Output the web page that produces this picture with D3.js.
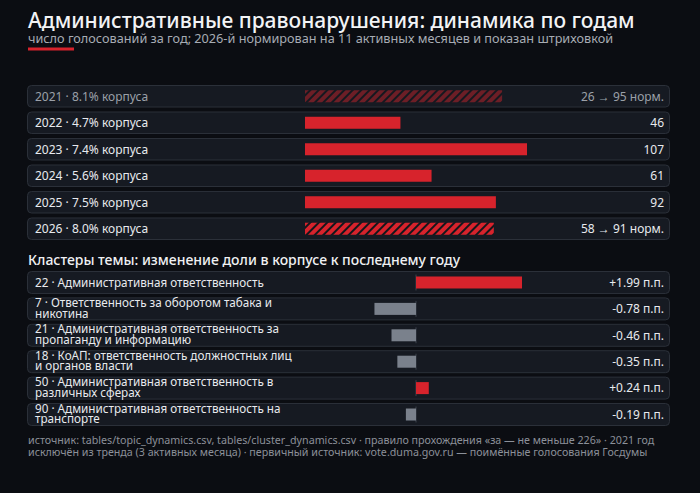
<!DOCTYPE html>
<html><head><meta charset="utf-8">
<script src="https://cdn.jsdelivr.net/npm/d3@7"></script>
<style>
html,body{margin:0;padding:0;background:#0b0d12;}
svg{display:block;}
text{font-family:"Noto Sans","Open Sans",sans-serif;}
</style></head>
<body>
<svg id="c" width="700" height="493"></svg>
<script>
const years = ["2021","2022","2023","2024","2025","2026"];
const yearShare = ["8.1%","4.7%","7.4%","5.6%","7.5%","8.0%"];
const yearRaw = [26,46,107,61,92,58];
const yearNorm = [95,46,107,61,92,91];
const yearPartial = [true,false,false,false,false,true];
const yearExcluded = [true,false,false,false,false,false];

const clusterIds = ["22","7","21","18","50","90"];
const clusterNames = [
  ["Административная ответственность"],
  ["Ответственность за оборотом табака и","никотина"],
  ["Административная ответственность за","пропаганду и информацию"],
  ["КоАП: ответственность должностных лиц","и органов власти"],
  ["Административная ответственность в","различных сферах"],
  ["Административная ответственность на","транспорте"]
];
const clusterDelta = [1.99,-0.78,-0.46,-0.35,0.24,-0.19];

const titleText = "Административные правонарушения: динамика по годам";
const subtitleText = "число голосований за год; 2026-й нормирован на 11 активных месяцев и показан штриховкой";
const sectionText = "Кластеры темы: изменение доли в корпусе к последнему году";
const footerLines = [
  "источник: tables/topic_dynamics.csv, tables/cluster_dynamics.csv · правило прохождения «за — не меньше 226» · 2021 год",
  "исключён из тренда (3 активных месяца) · первичный источник: vote.duma.gov.ru — поимённые голосования Госдумы"
];

const RED = "#d7232c", GRAY = "#7a818c";
const svg = d3.select("#c");
const defs = svg.append("defs");
const pat = defs.append("pattern").attr("id","hatch").attr("patternUnits","userSpaceOnUse")
  .attr("width",6).attr("height",6).attr("patternTransform","rotate(45)");
pat.append("rect").attr("width",6).attr("height",6).attr("fill",RED);
pat.append("rect").attr("width",2).attr("height",6).attr("fill","#15161b");

svg.append("text").attr("x",28).attr("y",28).attr("fill","#f2f3f5")
  .attr("font-size",21).attr("font-weight",500).text(titleText);
svg.append("text").attr("x",28).attr("y",42.5).attr("fill","#a7acb4")
  .attr("font-size",12.7).text(subtitleText);
svg.append("rect").attr("x",28).attr("y",47.5).attr("width",46).attr("height",3).attr("fill",RED);

// Year rows
const yb = d3.scaleBand().domain(years).range([85,240]).paddingInner(0.15).paddingOuter(0);
const xv = d3.scaleLinear().domain([0, d3.max(yearNorm)]).range([305,527]);
const yg = svg.append("g").selectAll("g").data(years).join("g")
  .attr("transform",d=>`translate(0,${yb(d)})`);
yg.append("rect").attr("x",27.5).attr("y",0.5).attr("width",642).attr("height",yb.bandwidth()-1)
  .attr("rx",4).attr("fill","#161a22").attr("stroke","#2b3039");
yg.append("text").attr("x",35).attr("y",yb.bandwidth()/2+4.3).attr("font-size",12)
  .attr("fill",(d,i)=>yearExcluded[i]?"#9ba0a8":"#e8eaee")
  .text((d,i)=>`${d} · ${yearShare[i]} корпуса`);
yg.append("rect").attr("x",xv(0)).attr("y",yb.bandwidth()/2-6).attr("height",12)
  .attr("width",(d,i)=>xv(yearNorm[i])-xv(0))
  .attr("fill",(d,i)=>yearPartial[i]?"url(#hatch)":RED)
  .attr("opacity",(d,i)=>yearExcluded[i]?0.45:1);
yg.append("text").attr("x",664).attr("y",yb.bandwidth()/2+4.3).attr("font-size",12)
  .attr("text-anchor","end")
  .attr("fill",(d,i)=>yearExcluded[i]?"#9ba0a8":"#e8eaee")
  .text((d,i)=>yearPartial[i]?`${yearRaw[i]} → ${yearNorm[i]} норм.`:`${yearNorm[i]}`);

svg.append("text").attr("x",28).attr("y",265).attr("fill","#f0f1f3")
  .attr("font-size",14).attr("font-weight",500).text(sectionText);

// Cluster rows
const cb = d3.scaleBand().domain(clusterIds).range([271,426]).paddingInner(0.13).paddingOuter(0);
const m = d3.max(clusterDelta, d=>Math.abs(d));
const xc = d3.scaleLinear().domain([-m,m]).range([310,522]);
const cg = svg.append("g").selectAll("g").data(clusterIds).join("g")
  .attr("transform",d=>`translate(0,${cb(d)})`);
const bh = cb.bandwidth();
cg.append("rect").attr("x",27.5).attr("y",0.5).attr("width",642).attr("height",bh-1)
  .attr("rx",4).attr("fill","#161a22").attr("stroke","#2b3039");
cg.append("line").attr("x1",xc(0)).attr("x2",xc(0)).attr("y1",bh/2-8).attr("y2",bh/2+8)
  .attr("stroke","#3a404a").attr("stroke-width",1);
cg.append("rect").attr("x",(d,i)=>Math.min(xc(0),xc(clusterDelta[i]))).attr("y",bh/2-6).attr("height",12)
  .attr("width",(d,i)=>Math.abs(xc(clusterDelta[i])-xc(0)))
  .attr("fill",(d,i)=>clusterDelta[i]>0?RED:GRAY);
cg.each(function(d,i){
  const g = d3.select(this);
  const lines = clusterNames[i];
  const t = g.append("text").attr("font-size",11.7).attr("fill","#e8eaee");
  lines.forEach((ln,j)=>{
    const y = lines.length===1 ? bh/2+4.2 : (j===0 ? bh/2-2 : bh/2+8.8);
    t.append("tspan").attr("x",35).attr("y",y).text(j===0?`${d} · ${ln}`:ln);
  });
});
cg.append("text").attr("x",664).attr("y",bh/2+4.3).attr("font-size",12)
  .attr("text-anchor","end").attr("fill","#e8eaee")
  .text((d,i)=>(clusterDelta[i]>0?"+":"")+clusterDelta[i].toFixed(2)+" п.п.");

footerLines.forEach((ln,i)=>{
  svg.append("text").attr("x",28).attr("y",444+i*12.3).attr("font-size",10.7)
    .attr("fill","#8b9099").text(ln);
});
</script>
</body></html>
